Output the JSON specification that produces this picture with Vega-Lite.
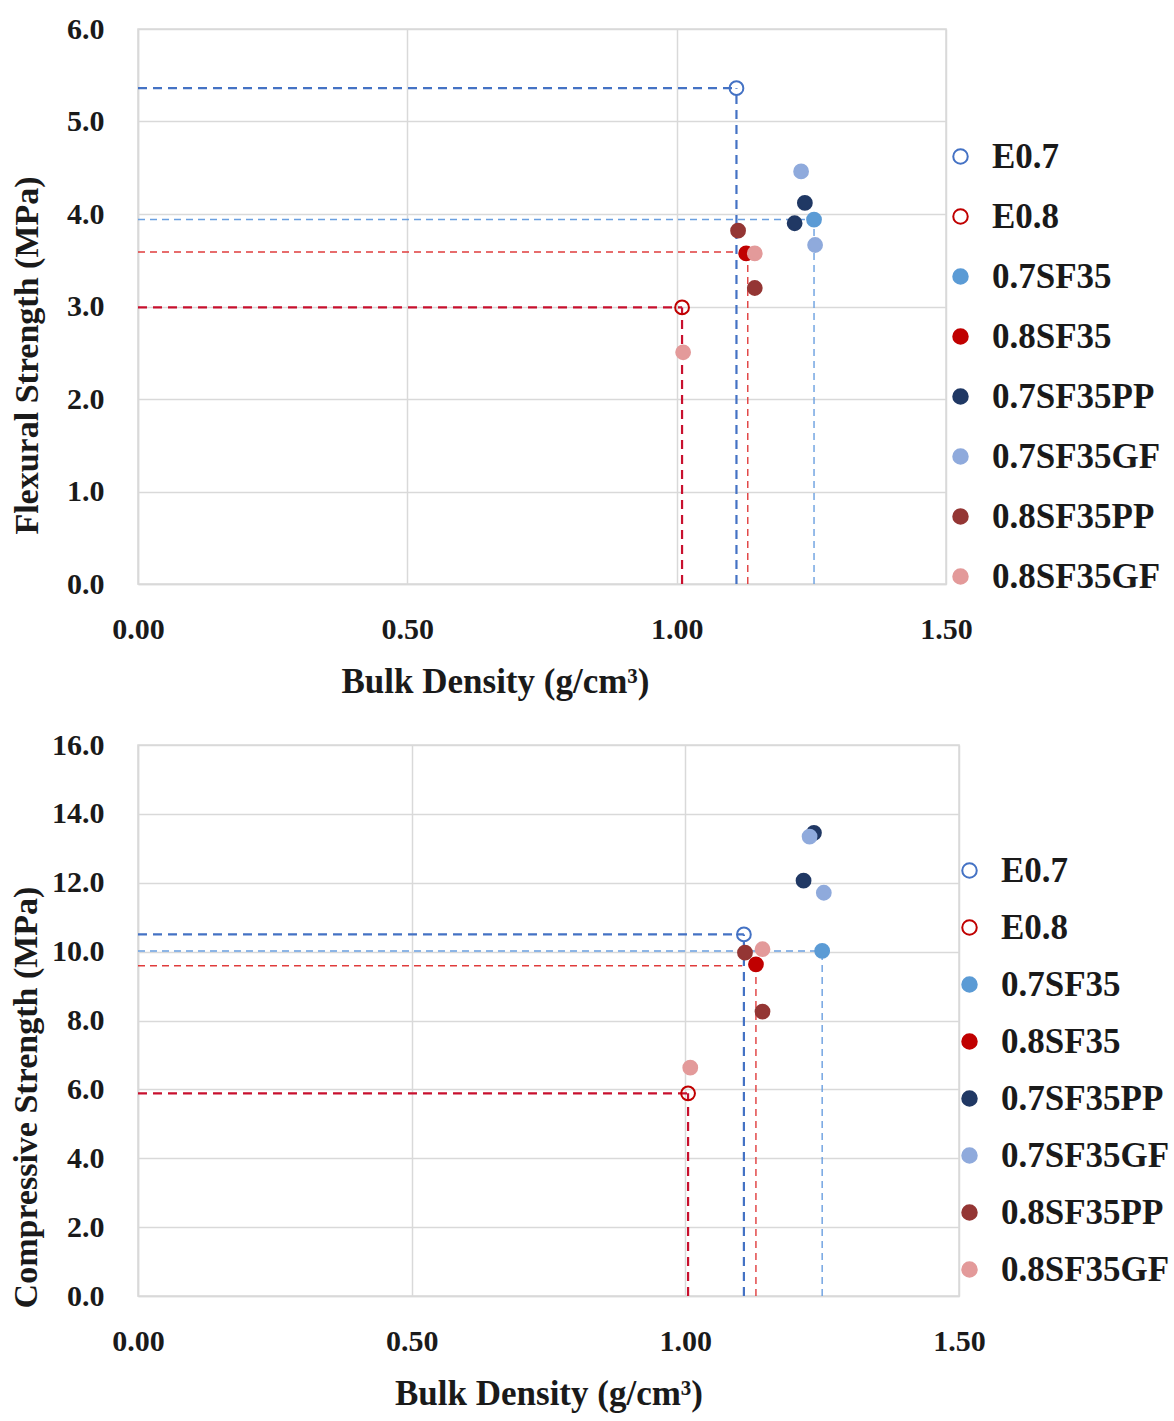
{
  "$schema": "https://vega.github.io/schema/vega-lite/v6.json",
  "background": "white",
  "padding": {"left": 8, "top": 13, "right": 4, "bottom": 4},
  "spacing": 29,
  "datasets": {
    "pts": [
      {"chart": "flex", "series": "E0.7", "density": 1.111, "strength": 5.36},
      {"chart": "flex", "series": "E0.8", "density": 1.010, "strength": 2.99},
      {"chart": "flex", "series": "0.7SF35", "density": 1.255, "strength": 3.94},
      {"chart": "flex", "series": "0.8SF35", "density": 1.129, "strength": 3.575},
      {"chart": "flex", "series": "0.7SF35PP", "density": 1.238, "strength": 4.12},
      {"chart": "flex", "series": "0.7SF35PP", "density": 1.219, "strength": 3.90},
      {"chart": "flex", "series": "0.7SF35GF", "density": 1.231, "strength": 4.46},
      {"chart": "flex", "series": "0.7SF35GF", "density": 1.257, "strength": 3.665},
      {"chart": "flex", "series": "0.8SF35PP", "density": 1.114, "strength": 3.82},
      {"chart": "flex", "series": "0.8SF35PP", "density": 1.145, "strength": 3.20},
      {"chart": "flex", "series": "0.8SF35GF", "density": 1.145, "strength": 3.575},
      {"chart": "flex", "series": "0.8SF35GF", "density": 1.012, "strength": 2.505},
      {"chart": "comp", "series": "E0.7", "density": 1.107, "strength": 10.50},
      {"chart": "comp", "series": "E0.8", "density": 1.005, "strength": 5.885},
      {"chart": "comp", "series": "0.7SF35", "density": 1.250, "strength": 10.02},
      {"chart": "comp", "series": "0.8SF35", "density": 1.129, "strength": 9.63},
      {"chart": "comp", "series": "0.7SF35PP", "density": 1.235, "strength": 13.45},
      {"chart": "comp", "series": "0.7SF35PP", "density": 1.216, "strength": 12.06},
      {"chart": "comp", "series": "0.7SF35GF", "density": 1.227, "strength": 13.34},
      {"chart": "comp", "series": "0.7SF35GF", "density": 1.253, "strength": 11.71},
      {"chart": "comp", "series": "0.8SF35PP", "density": 1.109, "strength": 9.97},
      {"chart": "comp", "series": "0.8SF35PP", "density": 1.141, "strength": 8.26},
      {"chart": "comp", "series": "0.8SF35GF", "density": 1.141, "strength": 10.07},
      {"chart": "comp", "series": "0.8SF35GF", "density": 1.009, "strength": 6.63}
    ],
    "guides": [
      {"chart": "flex", "ref": "E0.7", "x": 0, "x2": 1.111, "y": 5.36, "y2": 5.36},
      {"chart": "flex", "ref": "E0.7", "x": 1.111, "x2": 1.111, "y": 0, "y2": 5.36},
      {"chart": "flex", "ref": "0.7SF35", "x": 0, "x2": 1.255, "y": 3.94, "y2": 3.94},
      {"chart": "flex", "ref": "0.7SF35", "x": 1.255, "x2": 1.255, "y": 0, "y2": 3.94},
      {"chart": "flex", "ref": "0.8SF35", "x": 0, "x2": 1.11, "y": 3.59, "y2": 3.59},
      {"chart": "flex", "ref": "0.8SF35", "x": 1.132, "x2": 1.132, "y": 0, "y2": 3.54},
      {"chart": "flex", "ref": "E0.8", "x": 0, "x2": 1.01, "y": 2.99, "y2": 2.99},
      {"chart": "flex", "ref": "E0.8", "x": 1.01, "x2": 1.01, "y": 0, "y2": 2.99},
      {"chart": "comp", "ref": "E0.7", "x": 0, "x2": 1.107, "y": 10.5, "y2": 10.5},
      {"chart": "comp", "ref": "E0.7", "x": 1.107, "x2": 1.107, "y": 0, "y2": 10.5},
      {"chart": "comp", "ref": "0.7SF35", "x": 0, "x2": 1.25, "y": 10.02, "y2": 10.02},
      {"chart": "comp", "ref": "0.7SF35", "x": 1.25, "x2": 1.25, "y": 0, "y2": 10.02},
      {"chart": "comp", "ref": "0.8SF35", "x": 0, "x2": 1.104, "y": 9.59, "y2": 9.59},
      {"chart": "comp", "ref": "0.8SF35", "x": 1.129, "x2": 1.129, "y": 0, "y2": 9.5},
      {"chart": "comp", "ref": "E0.8", "x": 0, "x2": 1.005, "y": 5.885, "y2": 5.885},
      {"chart": "comp", "ref": "E0.8", "x": 1.005, "x2": 1.005, "y": 0, "y2": 5.885}
    ]
  },
  "vconcat": [
    {
      "width": 808,
      "height": 555,
      "layer": [
        {
          "data": {"name": "guides"},
          "transform": [{"filter": "datum.chart === 'flex' && datum.ref === 'E0.7'"}],
          "mark": {"type": "rule", "color": "#4472C4", "strokeWidth": 2.2, "strokeDash": [9, 6]},
          "encoding": {
            "x": {"field": "x", "type": "quantitative", "scale": {"domain": [0, 1.5], "nice": false}},
            "x2": {"field": "x2"},
            "y": {"field": "y", "type": "quantitative", "scale": {"domain": [0, 6], "nice": false}},
            "y2": {"field": "y2"}
          }
        },
        {
          "data": {"name": "guides"},
          "transform": [{"filter": "datum.chart === 'flex' && datum.ref === '0.7SF35'"}],
          "mark": {"type": "rule", "color": "#6A9FE0", "strokeWidth": 1.4, "strokeDash": [7, 5]},
          "encoding": {
            "x": {"field": "x", "type": "quantitative"},
            "x2": {"field": "x2"},
            "y": {"field": "y", "type": "quantitative"},
            "y2": {"field": "y2"}
          }
        },
        {
          "data": {"name": "guides"},
          "transform": [{"filter": "datum.chart === 'flex' && datum.ref === '0.8SF35'"}],
          "mark": {"type": "rule", "color": "#E03C3C", "strokeWidth": 1.4, "strokeDash": [7, 5]},
          "encoding": {
            "x": {"field": "x", "type": "quantitative"},
            "x2": {"field": "x2"},
            "y": {"field": "y", "type": "quantitative"},
            "y2": {"field": "y2"}
          }
        },
        {
          "data": {"name": "guides"},
          "transform": [{"filter": "datum.chart === 'flex' && datum.ref === 'E0.8'"}],
          "mark": {"type": "rule", "color": "#C8102E", "strokeWidth": 2.2, "strokeDash": [9, 6]},
          "encoding": {
            "x": {"field": "x", "type": "quantitative"},
            "x2": {"field": "x2"},
            "y": {"field": "y", "type": "quantitative"},
            "y2": {"field": "y2"}
          }
        },
        {
          "data": {"name": "pts"},
          "transform": [{"filter": "datum.chart === 'flex'"}],
          "mark": {"type": "point", "shape": "circle", "size": 190, "strokeWidth": 2, "opacity": 1},
          "encoding": {
            "x": {
              "field": "density", "type": "quantitative",
              "scale": {"domain": [0, 1.5], "nice": false},
              "axis": {"values": [0, 0.5, 1, 1.5], "format": ".2f", "title": "Bulk  Density (g/cm³)", "titleX": 357}
            },
            "y": {
              "field": "strength", "type": "quantitative",
              "scale": {"domain": [0, 6], "nice": false},
              "axis": {"values": [0, 1, 2, 3, 4, 5, 6], "format": ".1f", "title": "Flexural Strength (MPa)", "titlePadding": 22, "titleY": 326}
            },
            "fill": {
              "field": "series", "type": "nominal",
              "scale": {
                "domain": ["E0.7", "E0.8", "0.7SF35", "0.8SF35", "0.7SF35PP", "0.7SF35GF", "0.8SF35PP", "0.8SF35GF"],
                "range": ["transparent", "transparent", "#5B9BD5", "#C00000", "#203864", "#8FAADC", "#943634", "#E39A9A"]
              },
              "legend": {"orient": "none", "legendX": 805, "legendY": 110, "rowPadding": 24, "title": null}
            },
            "stroke": {
              "field": "series", "type": "nominal",
              "scale": {
                "domain": ["E0.7", "E0.8", "0.7SF35", "0.8SF35", "0.7SF35PP", "0.7SF35GF", "0.8SF35PP", "0.8SF35GF"],
                "range": ["#4472C4", "#C00000", "#5B9BD5", "#C00000", "#203864", "#8FAADC", "#943634", "#E39A9A"]
              },
              "legend": {"orient": "none", "legendX": 805, "legendY": 110, "rowPadding": 24, "title": null}
            }
          }
        }
      ]
    },
    {
      "width": 821,
      "height": 551,
      "layer": [
        {
          "data": {"name": "guides"},
          "transform": [{"filter": "datum.chart === 'comp' && datum.ref === 'E0.7'"}],
          "mark": {"type": "rule", "color": "#4472C4", "strokeWidth": 2.2, "strokeDash": [9, 6]},
          "encoding": {
            "x": {"field": "x", "type": "quantitative", "scale": {"domain": [0, 1.5], "nice": false}},
            "x2": {"field": "x2"},
            "y": {"field": "y", "type": "quantitative", "scale": {"domain": [0, 16], "nice": false}},
            "y2": {"field": "y2"}
          }
        },
        {
          "data": {"name": "guides"},
          "transform": [{"filter": "datum.chart === 'comp' && datum.ref === '0.7SF35'"}],
          "mark": {"type": "rule", "color": "#6A9FE0", "strokeWidth": 1.4, "strokeDash": [7, 5]},
          "encoding": {
            "x": {"field": "x", "type": "quantitative"},
            "x2": {"field": "x2"},
            "y": {"field": "y", "type": "quantitative"},
            "y2": {"field": "y2"}
          }
        },
        {
          "data": {"name": "guides"},
          "transform": [{"filter": "datum.chart === 'comp' && datum.ref === '0.8SF35'"}],
          "mark": {"type": "rule", "color": "#E03C3C", "strokeWidth": 1.4, "strokeDash": [7, 5]},
          "encoding": {
            "x": {"field": "x", "type": "quantitative"},
            "x2": {"field": "x2"},
            "y": {"field": "y", "type": "quantitative"},
            "y2": {"field": "y2"}
          }
        },
        {
          "data": {"name": "guides"},
          "transform": [{"filter": "datum.chart === 'comp' && datum.ref === 'E0.8'"}],
          "mark": {"type": "rule", "color": "#C8102E", "strokeWidth": 2.2, "strokeDash": [9, 6]},
          "encoding": {
            "x": {"field": "x", "type": "quantitative"},
            "x2": {"field": "x2"},
            "y": {"field": "y", "type": "quantitative"},
            "y2": {"field": "y2"}
          }
        },
        {
          "data": {"name": "pts"},
          "transform": [{"filter": "datum.chart === 'comp'"}],
          "mark": {"type": "point", "shape": "circle", "size": 190, "strokeWidth": 2, "opacity": 1},
          "encoding": {
            "x": {
              "field": "density", "type": "quantitative",
              "scale": {"domain": [0, 1.5], "nice": false},
              "axis": {"values": [0, 0.5, 1, 1.5], "format": ".2f", "title": "Bulk Density (g/cm³)"}
            },
            "y": {
              "field": "strength", "type": "quantitative",
              "scale": {"domain": [0, 16], "nice": false},
              "axis": {"values": [0, 2, 4, 6, 8, 10, 12, 14, 16], "format": ".1f", "title": "Compressive Strength (MPa)", "titlePadding": 8, "titleY": 352}
            },
            "fill": {
              "field": "series", "type": "nominal",
              "scale": {
                "domain": ["E0.7", "E0.8", "0.7SF35", "0.8SF35", "0.7SF35PP", "0.7SF35GF", "0.8SF35PP", "0.8SF35GF"],
                "range": ["transparent", "transparent", "#5B9BD5", "#C00000", "#203864", "#8FAADC", "#943634", "#E39A9A"]
              },
              "legend": {"orient": "none", "legendX": 814, "legendY": 108, "rowPadding": 21, "title": null}
            },
            "stroke": {
              "field": "series", "type": "nominal",
              "scale": {
                "domain": ["E0.7", "E0.8", "0.7SF35", "0.8SF35", "0.7SF35PP", "0.7SF35GF", "0.8SF35PP", "0.8SF35GF"],
                "range": ["#4472C4", "#C00000", "#5B9BD5", "#C00000", "#203864", "#8FAADC", "#943634", "#E39A9A"]
              },
              "legend": {"orient": "none", "legendX": 814, "legendY": 108, "rowPadding": 21, "title": null}
            }
          }
        }
      ]
    }
  ],
  "resolve": {
    "scale": {"fill": "independent", "stroke": "independent", "x": "independent", "y": "independent"},
    "legend": {"fill": "independent", "stroke": "independent"}
  },
  "config": {
    "font": "Liberation Serif",
    "view": {"stroke": "#D9D9D9", "strokeWidth": 1.5},
    "axis": {
      "labelFont": "Liberation Serif",
      "labelFontSize": 30,
      "labelFontWeight": "bold",
      "labelColor": "#1a1a1a",
      "labelFlush": false,
      "titleFont": "Liberation Serif",
      "titleFontSize": 34,
      "titleFontWeight": "bold",
      "titleColor": "#1a1a1a",
      "gridColor": "#D9D9D9",
      "gridWidth": 1.5,
      "domainColor": "#D9D9D9",
      "domainWidth": 1.5,
      "ticks": false
    },
    "axisX": {"labelPadding": 30, "titlePadding": 20, "titleFontSize": 35},
    "axisY": {"labelPadding": 34},
    "legend": {
      "labelFont": "Liberation Serif",
      "labelFontSize": 35,
      "labelFontWeight": "bold",
      "labelColor": "#1a1a1a",
      "labelOffset": 14,
      "labelLimit": 400,
      "symbolType": "circle",
      "symbolSize": 210,
      "symbolStrokeWidth": 2,
      "padding": 0
    }
  }
}
